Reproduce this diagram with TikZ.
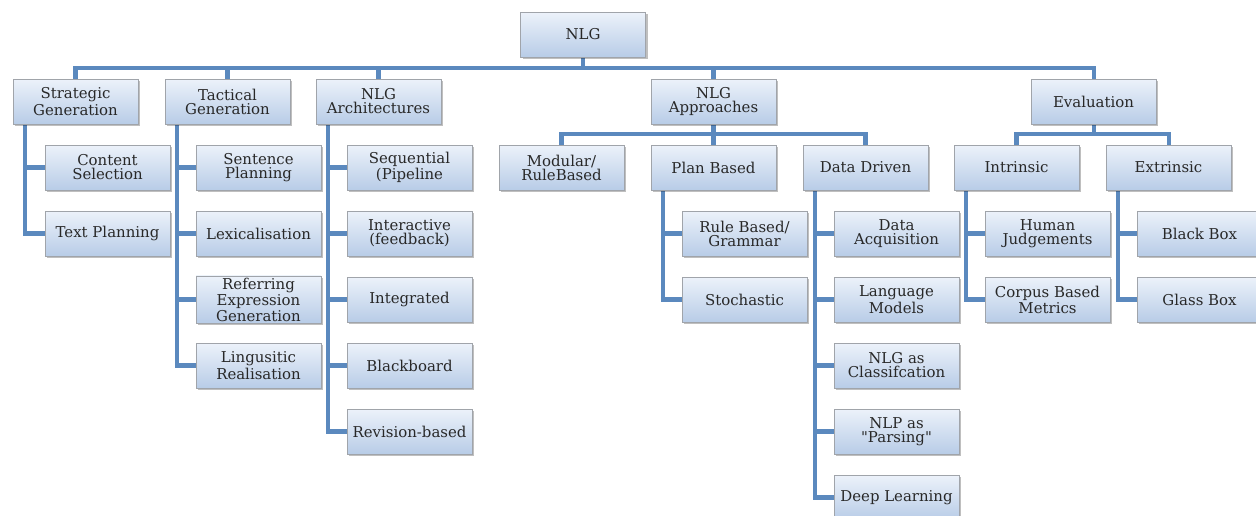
\documentclass[tikz,border=0pt]{standalone}
\usepackage{fontspec}
\setmainfont{DejaVu Serif}[Ligatures=TeXOff]
\usetikzlibrary{shadows,backgrounds}
\definecolor{boxtop}{RGB}{236,242,250}
\definecolor{boxbot}{RGB}{184,204,231}
\definecolor{boxline}{RGB}{160,164,170}
\definecolor{boxtext}{RGB}{40,40,40}
\definecolor{lineblue}{RGB}{91,137,190}
\begin{document}
\begin{tikzpicture}[x=0.02cm, y=-0.02cm,
    font=\fontsize{8.5}{8}\selectfont,
    box/.style ={draw=boxline, top color=boxtop, bottom color=boxbot, text=boxtext,
                 minimum width=2.5cm, minimum height=0.9cm, align=center, inner sep=1pt,
                 drop shadow={shadow xshift=1.2pt, shadow yshift=-1.2pt, opacity=0.25, fill=black}},
    conn/.style={draw=lineblue, line width=2.3pt},
  ]
  \clip (0,0) rectangle (1256,515);
  % root
  \node[box] (nlg) at (583,34.5) {NLG};

  % first level
  \node[box] (strat) at (75.5,101.5) {Strategic\\Generation};
  \node[box] (tact) at (227.5,101.5) {Tactical\\Generation};
  \node[box] (arch) at (378.5,101.5) {NLG\\Architectures};
  \node[box] (appr) at (713.5,101.5) {NLG\\Approaches};
  \node[box] (eval) at (1093.5,101.5) {Evaluation};

  % strategic generation
  \node[box] (cs) at (107.5,167.5) {Content\\Selection};
  \node[box] (tp) at (107.5,233.5) {Text Planning};

  % tactical generation
  \node[box] (sp) at (258.5,167.5) {Sentence\\Planning};
  \node[box] (lex) at (258.5,233.5) {Lexicalisation};
  \node[box] (reg) at (258.5,299.5) {Referring\\Expression\\Generation};
  \node[box] (lr) at (258.5,365.5) {Lingusitic\\Realisation};

  % architectures
  \node[box] (seq) at (409.5,167.5) {Sequential\\(Pipeline};
  \node[box] (inter) at (409.5,233.5) {Interactive\\(feedback)};
  \node[box] (integ) at (409.5,299.5) {Integrated};
  \node[box] (bb) at (409.5,365.5) {Blackboard};
  \node[box] (rev) at (409.5,431.5) {Revision-based};

  % approaches
  \node[box] (modular) at (561.5,167.5) {Modular/\\RuleBased};
  \node[box] (plan) at (713.5,167.5) {Plan Based};
  \node[box] (data) at (865.5,167.5) {Data Driven};
  \node[box] (rbg) at (744.5,233.5) {Rule Based/\\Grammar};
  \node[box] (stoch) at (744.5,299.5) {Stochastic};
  \node[box] (acq) at (896.5,233.5) {Data\\Acquisition};
  \node[box] (lm) at (896.5,299.5) {Language\\Models};
  \node[box] (cls) at (896.5,365.5) {NLG as\\Classifcation};
  \node[box] (pars) at (896.5,431.5) {NLP as\\"Parsing"};
  \node[box] (dl) at (896.5,497.5) {Deep Learning};

  % evaluation
  \node[box] (intr) at (1016.5,167.5) {Intrinsic};
  \node[box] (extr) at (1168.5,167.5) {Extrinsic};
  \node[box] (hj) at (1047.5,233.5) {Human\\Judgements};
  \node[box] (cbm) at (1047.5,299.5) {Corpus Based\\Metrics};
  \node[box] (blk) at (1199.5,233.5) {Black Box};
  \node[box] (gls) at (1199.5,299.5) {Glass Box};

  % connectors (white page first, lines on top of it)
  \begin{scope}[on background layer]
    \fill[white] (0,0) rectangle (1256,515);
    \foreach \t in {strat,tact,arch,appr,eval} \draw[conn] (nlg.south) -- ++(0,11) -| (\t.north);
    \foreach \t in {modular,plan,data} \draw[conn] (appr.south) -- ++(0,10) -| (\t.north);
    \foreach \t in {intr,extr} \draw[conn] (eval.south) -- ++(0,10) -| (\t.north);
    \foreach \c in {cs,tp} \draw[conn] ([xshift=0.24cm]strat.south west) |- (\c.west);
    \foreach \c in {sp,lex,reg,lr} \draw[conn] ([xshift=0.24cm]tact.south west) |- (\c.west);
    \foreach \c in {seq,inter,integ,bb,rev} \draw[conn] ([xshift=0.24cm]arch.south west) |- (\c.west);
    \foreach \c in {rbg,stoch} \draw[conn] ([xshift=0.24cm]plan.south west) |- (\c.west);
    \foreach \c in {acq,lm,cls,pars,dl} \draw[conn] ([xshift=0.24cm]data.south west) |- (\c.west);
    \foreach \c in {hj,cbm} \draw[conn] ([xshift=0.24cm]intr.south west) |- (\c.west);
    \foreach \c in {blk,gls} \draw[conn] ([xshift=0.24cm]extr.south west) |- (\c.west);
  \end{scope}
\end{tikzpicture}
\end{document}
